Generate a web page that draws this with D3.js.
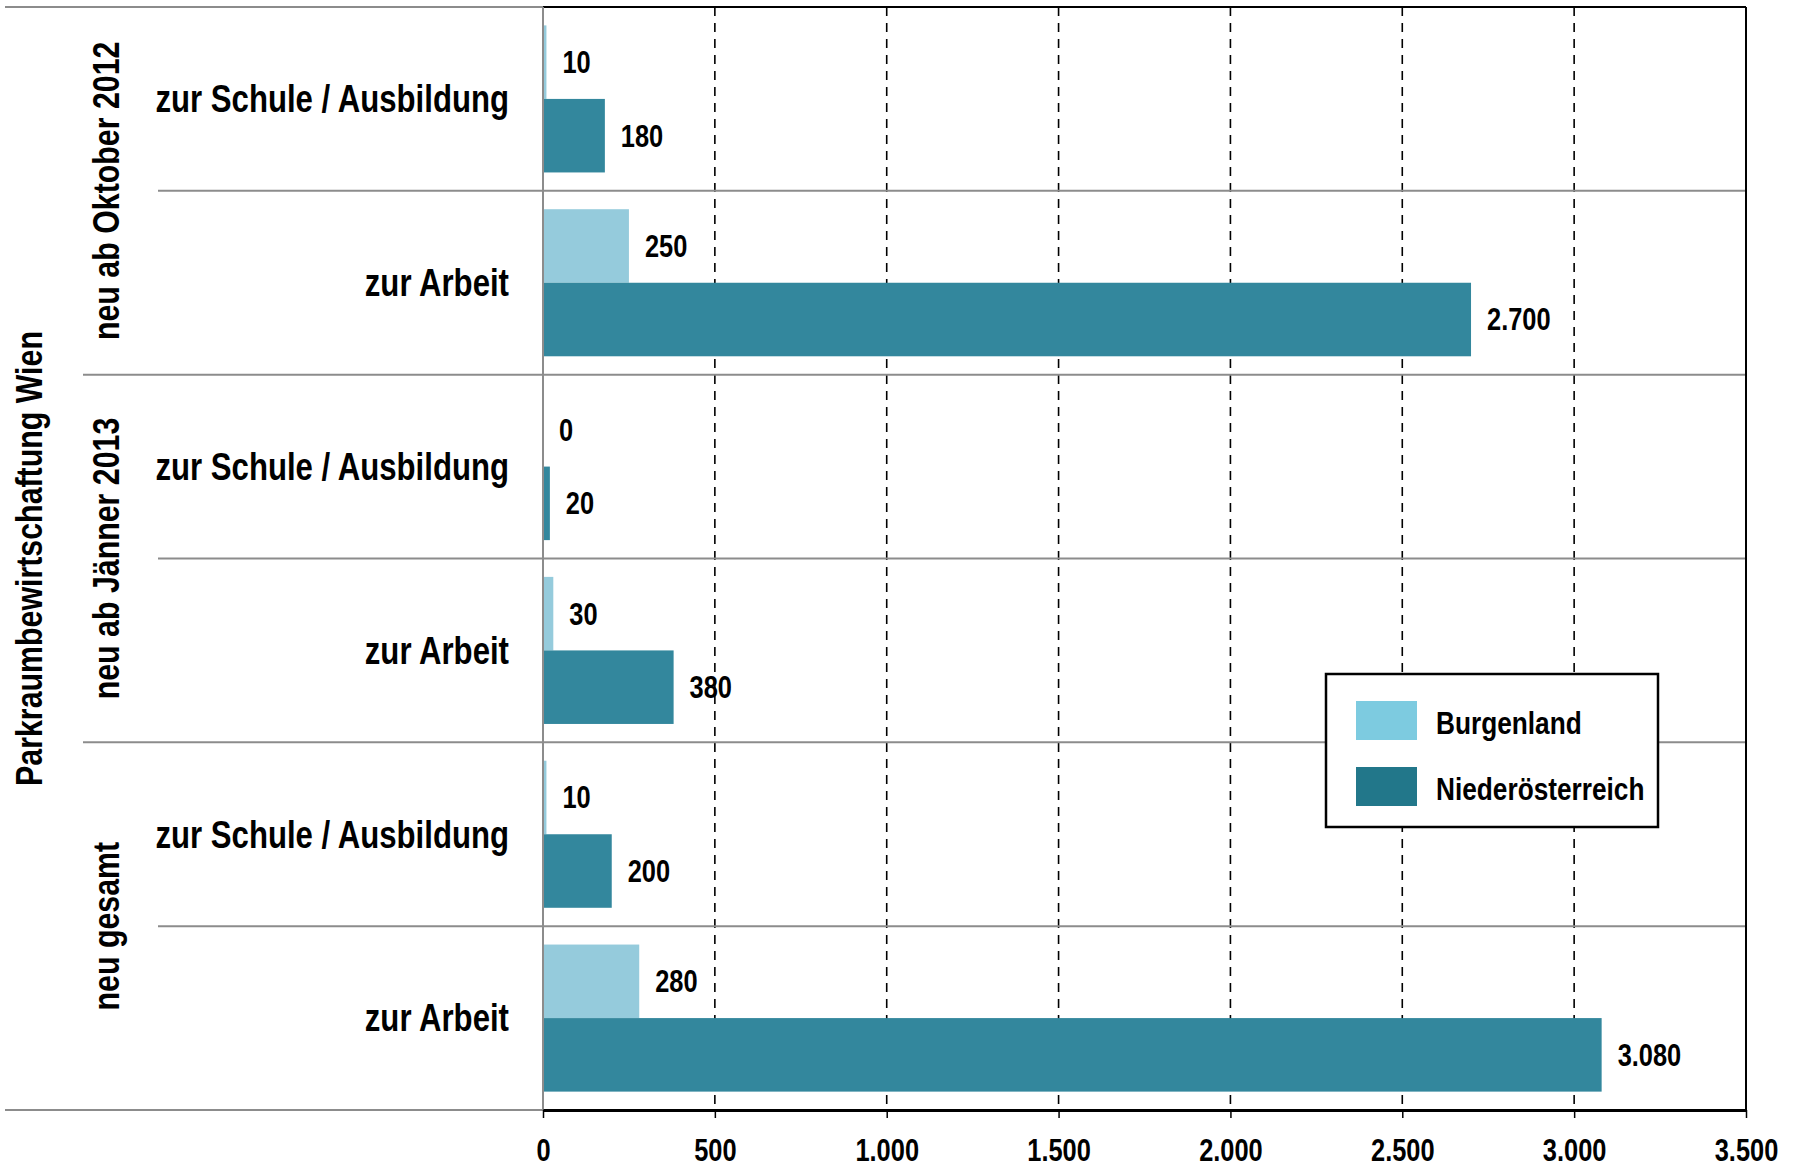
<!DOCTYPE html>
<html><head><meta charset="utf-8">
<script src="https://cdn.jsdelivr.net/npm/d3@7"></script>
<style>
html,body{margin:0;padding:0;background:#fff;}
text{font-family:"Liberation Sans",Arial,sans-serif;font-weight:bold;fill:#000;}
</style></head>
<body>
<svg id="chart" width="1800" height="1169"></svg>
<script>
// ---- data ----
const yTitle = "Parkraumbewirtschaftung Wien";
const groups = ["neu ab Oktober 2012", "neu ab Jänner 2013", "neu gesamt"];
const categories = ["zur Schule / Ausbildung", "zur Arbeit"];
const seriesNames = ["Burgenland", "Niederösterreich"];
// values per group, in the order of categories
const burgenland = [[10, 250], [0, 30], [10, 280]];
const niederoesterreich = [[180, 2700], [20, 380], [200, 3080]];
const xTicks = [0, 500, 1000, 1500, 2000, 2500, 3000, 3500];

// ---- build rows ----
const rows = [];
groups.forEach((g, gi) => categories.forEach((c, ci) => {
  rows.push({key: g + "|" + c, group: g, cat: c, gi, ci,
    values: [{s: seriesNames[0], v: burgenland[gi][ci]}, {s: seriesNames[1], v: niederoesterreich[gi][ci]}]});
}));

const NARROW = 0.82;
const L = 543, R = 1746, T = 7, B = 1110;
const svg = d3.select("#chart");
const de = d3.formatLocale({decimal: ",", thousands: ".", grouping: [3], currency: ["", "€"]});
const fmt = de.format(",d");

const x = d3.scaleLinear().domain([0, 3500]).range([L, R]);
const y = d3.scaleBand().domain(rows.map(r => r.key)).range([T, B]).padding(0);
const ys = d3.scaleBand().domain(seriesNames).range([0, y.bandwidth()]).paddingInner(0).paddingOuter(0.25);
const barColor = d3.scaleOrdinal().domain(seriesNames).range(["#95cbdc", "#33879d"]);
const legendColor = d3.scaleOrdinal().domain(seriesNames).range(["#7dcbe0", "#22778a"]);

// gridlines (dashed)
svg.append("g").selectAll("line").data(xTicks.filter(t => t > 0 && t < 3500)).join("line")
  .attr("x1", d => x(d)).attr("x2", d => x(d)).attr("y1", T).attr("y2", B)
  .attr("stroke", "#000").attr("stroke-width", 1.6).attr("stroke-dasharray", "9,7");

// bars
const rowG = svg.append("g").selectAll("g").data(rows).join("g")
  .attr("transform", d => `translate(0,${y(d.key)})`);
rowG.selectAll("rect").data(d => d.values).join("rect")
  .attr("x", x(0)).attr("y", d => ys(d.s))
  .attr("width", d => x(d.v) - x(0)).attr("height", ys.bandwidth())
  .attr("fill", d => barColor(d.s));
rowG.selectAll("text.val").data(d => d.values).join("text").attr("class", "val")
  .attr("transform", d => `translate(${x(d.v) + 16},${ys(d.s) + ys.bandwidth() / 2}) scale(${NARROW},1)`)
  .attr("dy", "0.35em").style("font-size", "31px").text(d => fmt(d.v));

// horizontal separators
const sepY = d3.range(1, rows.length).map(i => ({yy: y(rows[i].key), group: i % 2 === 0}));
svg.append("g").selectAll("line").data(sepY).join("line")
  .attr("x1", d => d.group ? 83 : 158).attr("x2", R)
  .attr("y1", d => d.yy).attr("y2", d => d.yy)
  .attr("stroke", "#8c8c8c").attr("stroke-width", 2);

// outer lines
svg.append("line").attr("x1", 5).attr("x2", L).attr("y1", T).attr("y2", T).attr("stroke", "#8c8c8c").attr("stroke-width", 2);
svg.append("line").attr("x1", L).attr("x2", R).attr("y1", T).attr("y2", T).attr("stroke", "#000").attr("stroke-width", 2);
svg.append("line").attr("x1", 5).attr("x2", L).attr("y1", B).attr("y2", B).attr("stroke", "#8c8c8c").attr("stroke-width", 2);
svg.append("line").attr("x1", R).attr("x2", R).attr("y1", T).attr("y2", B).attr("stroke", "#000").attr("stroke-width", 2);
svg.append("line").attr("x1", L).attr("x2", L).attr("y1", T).attr("y2", B).attr("stroke", "#8c8c8c").attr("stroke-width", 2);

// x axis
const xAxis = d3.axisBottom(x).tickValues(xTicks).tickFormat(fmt).tickSize(8).tickPadding(21).tickSizeOuter(0);
const ax = svg.append("g").attr("transform", `translate(0,${B})`).call(xAxis);
ax.select(".domain").attr("stroke", "#000").attr("stroke-width", 3);
ax.selectAll(".tick line").attr("stroke", "#000").attr("stroke-width", 1.5);
ax.selectAll(".tick text").attr("fill", "#000").attr("transform", `scale(${NARROW},1)`)
  .style("font-size", "31px").style("font-family", "'Liberation Sans',Arial,sans-serif").style("font-weight", "bold");

// category labels
svg.append("g").selectAll("text").data(rows).join("text")
  .attr("transform", d => `translate(509,${y(d.key) + y.bandwidth() / 2}) scale(${NARROW},1)`).attr("dy", "0.35em")
  .attr("text-anchor", "end").style("font-size", "38px").text(d => d.cat);

// group labels
svg.append("g").selectAll("text").data(groups).join("text")
  .attr("transform", (g, gi) => `translate(106,${y(rows[gi * 2].key) + y.bandwidth()}) rotate(-90) scale(${NARROW},1)`)
  .attr("dy", "0.35em").attr("text-anchor", "middle").style("font-size", "37px").text(d => d);

// title
svg.append("text").attr("transform", `translate(29,${(T + B) / 2}) rotate(-90) scale(${NARROW},1)`)
  .attr("dy", "0.35em").attr("text-anchor", "middle").style("font-size", "37px").text(yTitle);

// legend
const lg = svg.append("g").attr("transform", "translate(1326,674)");
lg.append("rect").attr("width", 332).attr("height", 153).attr("fill", "#fff").attr("stroke", "#000").attr("stroke-width", 2.5);
const li = lg.selectAll("g").data(seriesNames).join("g").attr("transform", (d, i) => `translate(30,${27 + i * 66})`);
li.append("rect").attr("width", 61).attr("height", 39).attr("fill", d => legendColor(d));
li.append("text").attr("transform", `translate(80,22) scale(${NARROW},1)`).attr("dy", "0.35em").style("font-size", "32px").text(d => d);
</script>
</body></html>
